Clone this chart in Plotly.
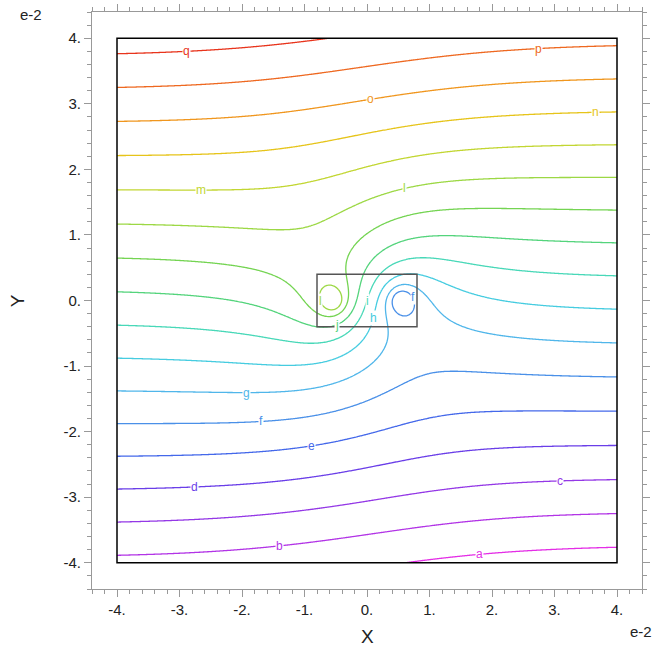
import numpy as np
import plotly.graph_objects as go

# ---- flow model (lengths in units of 1e-2) ----
U_INF = 1.0              # free-stream speed
STRENGTH = 0.8           # vortex strength
VORTEX_X = [-0.55, 0.55] # vortex centres on y = 0
VORTEX_SIGN = [1, -1]    # left vortex: stream-function maximum, right: minimum
PERIOD_Y = 8.0           # vertical period of the vortex row
CORE_RADIUS = 0.35       # finite vortex core: stream function is capped inside
CORE_CAP = 1.8

# contour levels a..q
LEVELS = [-4.08, -3.57, -3.06, -2.55, -2.04, -1.53, -1.02, -0.51, 0.0,
          0.51, 1.02, 1.53, 2.04, 2.55, 3.06, 3.57, 4.08]
LETTERS = list("abcdefghijklmnopq")
COLORS = ["#e42ee6", "#b234e6", "#9438e6", "#6a3ee8", "#4468ea", "#4a90e8",
          "#50b6ea", "#46cce0", "#48d8b8", "#54d47c", "#74d452", "#9cd844",
          "#c2d632", "#e6c41a", "#f0961e", "#ee6820", "#e8341c"]

# label anchors: (letter, x, y-guess, search direction)
LABEL_SPOTS = [
    ("q", -2.89, 3.79, "y"), ("p", 2.75, 3.88, "y"), ("o", 0.06, 3.12, "y"),
    ("n", 3.65, 2.90, "y"), ("m", -2.65, 1.68, "y"), ("l", 0.60, 1.84, "y"),
    ("l", -0.72, 0.0, "x"), ("f", 0.72, 0.05, "x"), ("i", 0.0, 0.26, "y"),
    ("h", 0.10, -0.26, "x"), ("j", -0.17, -0.37, "x"), ("g", -1.93, -1.55, "y"),
    ("f", -1.69, -1.94, "y"), ("e", -0.89, -2.32, "y"), ("d", -2.76, -2.90, "y"),
    ("c", 3.08, -2.75, "y"), ("b", -1.40, -3.79, "y"), ("a", 1.80, -3.88, "y"),
]

X_TICKS = [-4, -3, -2, -1, 0, 1, 2, 3, 4]
X_TICKTEXT = ["-4.", "-3.", "-2.", "-1.", "0.", "1.", "2.", "3.", "4."]
Y_TICKS = [-4, -3, -2, -1, 0, 1, 2, 3, 4]
Y_TICKTEXT = ["-4.", "-3.", "-2.", "-1.", "0.", "1.", "2.", "3.", "4."]

K = 2 * np.pi / PERIOD_Y


def stream(x, y):
    x = np.asarray(x, dtype=float)
    y = np.asarray(y, dtype=float)
    psi = U_INF * y
    for xv, s in zip(VORTEX_X, VORTEX_SIGN):
        g = np.cosh(K * (x - xv)) - np.cos(K * y) + 1e-9
        psi = psi - s * 0.5 * STRENGTH * np.log(g)
    for xv, s in zip(VORTEX_X, VORTEX_SIGN):
        core = (x - xv) ** 2 + y ** 2 < CORE_RADIUS ** 2
        capped = np.minimum(psi, CORE_CAP) if s > 0 else np.maximum(psi, -CORE_CAP)
        psi = np.where(core, capped, psi)
    return psi


xs = np.linspace(-4, 4, 401)
ys = np.linspace(-4, 4, 401)
XX, YY = np.meshgrid(xs, ys)
Z = stream(XX, YY).round(4)

fig = go.Figure()
fig.add_trace(go.Contour(
    x=xs, y=ys, z=Z,
    autocontour=False,
    contours=dict(start=LEVELS[0], end=LEVELS[-1], size=LEVELS[1] - LEVELS[0],
                  coloring="lines", showlabels=False),
    colorscale=[[i / (len(COLORS) - 1), c] for i, c in enumerate(COLORS)],
    line=dict(width=1.3, smoothing=1),
    showscale=False, hoverinfo="skip",
))


def locate(level, x0, y0, direction):
    t = np.linspace(-0.45, 0.45, 1801)
    if direction == "y":
        vals = stream(np.full_like(t, x0), y0 + t) - level
    else:
        vals = stream(x0 + t, np.full_like(t, y0)) - level
    idx = np.where(np.sign(vals[:-1]) != np.sign(vals[1:]))[0]
    if len(idx) == 0:
        return x0, y0
    best = idx[np.argmin(np.abs(t[idx]))]
    f = vals[best] / (vals[best] - vals[best + 1])
    tt = t[best] + f * (t[best + 1] - t[best])
    return (x0, y0 + tt) if direction == "y" else (x0 + tt, y0)


annotations = []
for letter, lx, ly, d in LABEL_SPOTS:
    k = LETTERS.index(letter)
    px, py = locate(LEVELS[k], lx, ly, d)
    annotations.append(dict(
        x=px, y=py, xref="x", yref="y", text=letter, showarrow=False,
        font=dict(size=12, color=COLORS[k], family="Arial, Liberation Sans"),
        bgcolor="white", borderpad=0, xanchor="center", yanchor="middle",
    ))

FONT = "Arial, Liberation Sans, sans-serif"
annotations += [
    dict(x=0.5, y=-0.083, xref="paper", yref="paper", text="X", showarrow=False,
         font=dict(size=19, color="#222", family=FONT), yanchor="middle"),
    dict(x=-0.135, y=0.5, xref="paper", yref="paper", text="Y", showarrow=False,
         textangle=-90, font=dict(size=19, color="#222", family=FONT), xanchor="center"),
    dict(x=-0.111, y=0.995, xref="paper", yref="paper", text="e-2", showarrow=False,
         font=dict(size=15, color="#222", family=FONT), xanchor="center", yanchor="middle"),
    dict(x=0.998, y=-0.073, xref="paper", yref="paper", text="e-2", showarrow=False,
         font=dict(size=15, color="#222", family=FONT), xanchor="center", yanchor="middle"),
]

shapes = [
    dict(type="rect", xref="x", yref="y", x0=-4, x1=4, y0=-4, y1=4,
         line=dict(color="black", width=1.5)),
    dict(type="rect", xref="x", yref="y", x0=-0.8, x1=0.8, y0=-0.4, y1=0.4,
         line=dict(color="#555555", width=1.5)),
]

axis_common = dict(
    showgrid=False, zeroline=False, showline=True, linecolor="#999999", linewidth=1,
    ticks="outside", ticklen=7, tickcolor="#999999", tickwidth=1, mirror="allticks",
    automargin=False,
    tickfont=dict(size=15, color="#222", family=FONT),
    minor=dict(dtick=0.2, tick0=0, ticks="outside", ticklen=4, tickcolor="#999999",
               showgrid=False),
)

fig.update_layout(
    width=653, height=650,
    margin=dict(l=92, r=11, t=12, b=61),
    paper_bgcolor="white", plot_bgcolor="white",
    xaxis=dict(range=[-4.4, 4.4], tickvals=X_TICKS, ticktext=X_TICKTEXT, **axis_common),
    yaxis=dict(range=[-4.4, 4.4], tickvals=Y_TICKS, ticktext=Y_TICKTEXT, **axis_common),
    shapes=shapes, annotations=annotations, showlegend=False,
)

fig.write_html("out.html")
